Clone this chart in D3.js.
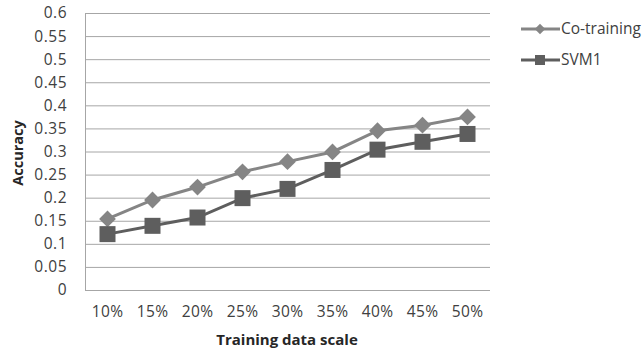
<!DOCTYPE html>
<html><head><meta charset="utf-8">
<script src="https://cdn.jsdelivr.net/npm/d3@7"></script>
<style>body{margin:0;background:#fff}svg{display:block}text{font-family:"Open Sans",sans-serif}</style>
</head><body>
<script>
const categories = ["10%","15%","20%","25%","30%","35%","40%","45%","50%"];
const coTraining = [0.154,0.195,0.223,0.256,0.278,0.299,0.345,0.357,0.375];
const svm1 = [0.121,0.139,0.157,0.199,0.219,0.260,0.304,0.321,0.338];
const yTicks = [0,0.05,0.1,0.15,0.2,0.25,0.3,0.35,0.4,0.45,0.5,0.55,0.6];
const yTickLabels = ["0","0.05","0.1","0.15","0.2","0.25","0.3","0.35","0.4","0.45","0.5","0.55","0.6"];
const seriesNames = ["Co-training","SVM1"];

const W=644,H=350, L=85, R=490, T=13, B=290;
const svg=d3.select("body").append("svg").attr("width",W).attr("height",H);
const x=d3.scaleBand().domain(categories).range([L,R]);
const y=d3.scaleLinear().domain([0,0.6]).range([B,T]);

// gridlines
svg.append("g").selectAll("line").data(yTicks).join("line")
  .attr("x1",L).attr("x2",R).attr("y1",d=>y(d)+0.5).attr("y2",d=>y(d)+0.5)
  .attr("stroke","#a6a6a6").attr("stroke-width",1);
svg.append("line").attr("x1",L+0.5).attr("x2",L+0.5).attr("y1",T).attr("y2",B+0.5).attr("stroke","#a6a6a6");

// y axis labels
const yAxis=d3.axisLeft(y).tickValues(yTicks).tickFormat((d,i)=>yTickLabels[i]).tickSize(0).tickPadding(18);
const gy=svg.append("g").attr("transform",`translate(${L},0)`).call(yAxis);
gy.select(".domain").remove();
gy.selectAll("text").attr("font-family","Open Sans").attr("font-size",15.5).attr("fill","#404040").style("letter-spacing","0.5px");

const xAxis=d3.axisBottom(x).tickSize(0).tickPadding(16);
const gx=svg.append("g").attr("transform",`translate(0,${B})`).call(xAxis);
gx.select(".domain").remove();
gx.selectAll("text").attr("font-family","Open Sans").attr("font-size",15.5).attr("fill","#404040").style("letter-spacing","0.4px");

svg.append("text").attr("x",287).attr("y",345).attr("text-anchor","middle")
  .attr("font-weight","bold").attr("font-size",15).attr("fill","#262626").text("Training data scale");
svg.append("text").attr("transform","translate(23,153) rotate(-90)").attr("text-anchor","middle")
  .attr("font-weight","bold").attr("font-size",14.5).attr("fill","#262626").text("Accuracy");

const cx=d=>x(d)+x.bandwidth()/2;
const colors=["#858585","#5e5e5e"];
const data=[coTraining,svm1];
const line=d3.line().x((d,i)=>cx(categories[i])).y(d=>y(d));
data.forEach((s,k)=>{
  svg.append("path").datum(s).attr("d",line).attr("fill","none").attr("stroke",colors[k]).attr("stroke-width",3);
});
// markers
svg.append("g").selectAll("path").data(coTraining).join("path")
  .attr("d",d3.symbol().type(d3.symbolDiamond2).size(180))
  .attr("transform",(d,i)=>`translate(${cx(categories[i])},${y(d)})`).attr("fill",colors[0]);
svg.append("g").selectAll("rect").data(svm1).join("rect")
  .attr("x",(d,i)=>cx(categories[i])-8).attr("y",d=>y(d)-8).attr("width",16).attr("height",16)
  .attr("fill",colors[1]);

// legend
const lg=svg.append("g");
seriesNames.forEach((n,k)=>{
  const ly=[29,60][k];
  lg.append("line").attr("x1",521).attr("x2",560).attr("y1",ly).attr("y2",ly).attr("stroke",colors[k]).attr("stroke-width",3);
  if(k===0) lg.append("path").attr("d",d3.symbol().type(d3.symbolDiamond2).size(70)).attr("transform",`translate(540,${ly})`).attr("fill",colors[k]);
  else lg.append("rect").attr("x",535).attr("y",ly-5).attr("width",10).attr("height",10).attr("fill",colors[k]);
  lg.append("text").attr("x",561).attr("y",ly).attr("dy","0.35em").attr("font-size",15.5).attr("fill","#404040").text(n);
});
</script>
</body></html>
